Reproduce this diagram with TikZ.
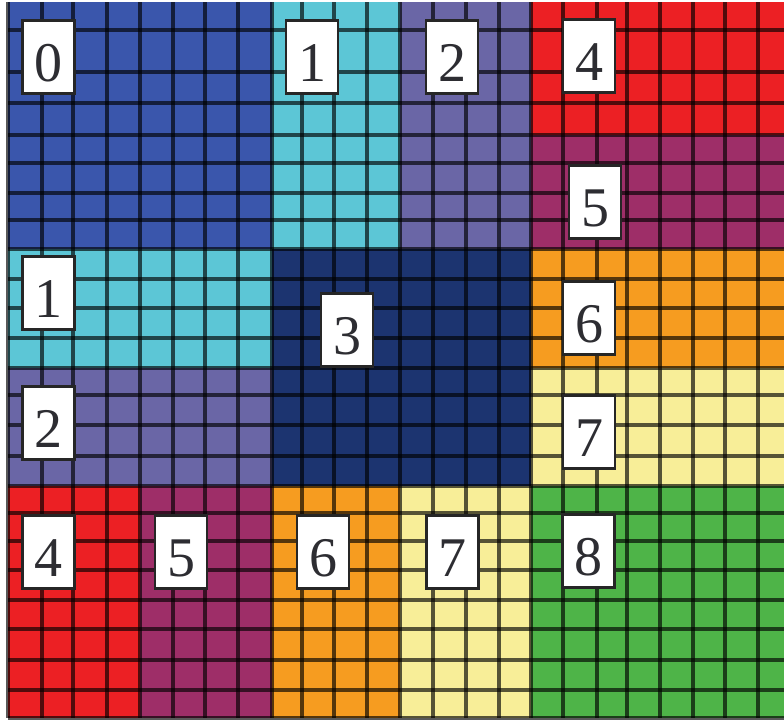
\documentclass[tikz,border=0pt]{standalone}
\usepackage{fontspec}
\setmainfont{Liberation Serif}
\definecolor{cB0}{RGB}{58,86,172}
\definecolor{cCy}{RGB}{92,198,214}
\definecolor{cPu}{RGB}{106,102,166}
\definecolor{cNv}{RGB}{28,52,112}
\definecolor{cRd}{RGB}{236,32,36}
\definecolor{cMg}{RGB}{158,46,104}
\definecolor{cOr}{RGB}{246,156,32}
\definecolor{cYe}{RGB}{248,238,152}
\definecolor{cGr}{RGB}{78,180,72}
\definecolor{lblink}{RGB}{45,45,50}
\tikzset{
  gridline/.style={draw=black,draw opacity=0.65,line width=3.6pt},
  lbl/.style={draw=black!85,line width=2.2pt,fill=white,minimum width=52pt,minimum height=73pt,
    inner sep=0pt,text depth=0pt,text height=48pt,text=lblink,
    font=\fontsize{56}{58}\selectfont}
}
\begin{document}
\begin{tikzpicture}[x=1pt,y=-1pt]
\useasboundingbox (0,0) rectangle (784,721);
\fill[white] (0,0) rectangle (784,721);
\begin{scope}
\clip (0,0) rectangle (784,721);
% blocks
\fill[cB0] (8,2) rectangle (272,249);
\fill[cCy] (272,2) rectangle (400,249);
\fill[cPu] (400,2) rectangle (531,249);
\fill[cRd] (531,2) rectangle (795,135);
\fill[cMg] (531,135) rectangle (795,249);
\fill[cCy] (8,249) rectangle (272,368);
\fill[cPu] (8,368) rectangle (272,486);
\fill[cNv] (272,249) rectangle (531,486);
\fill[cOr] (531,249) rectangle (795,368);
\fill[cYe] (531,368) rectangle (795,486);
\fill[cRd] (8,486) rectangle (140,718);
\fill[cMg] (140,486) rectangle (272,718);
\fill[cOr] (272,486) rectangle (400,718);
\fill[cYe] (400,486) rectangle (531,718);
\fill[cGr] (531,486) rectangle (795,718);
% grid lines
\foreach \x in {8,42,73,107,140,173,205,238,272,302,334,367,400,433,466,499,531,563,597,627,660,693,725,758}
  \draw[gridline] (\x,2) -- (\x,718);
\foreach \y in {30,72,103,135,163,193,220,249,279,308,338,368,395,425,456,486,513,541,570,600,629,660,690,718}
  \draw[gridline] (8,\y) -- (795,\y);
\end{scope}
% labels
\node[lbl] (t0) at (48.5,57) {0};
\node[lbl] (t1) at (312,57) {1};
\node[lbl] (t2) at (452,57) {2};
\node[lbl] (t4) at (589,56) {4};
\node[lbl] (t5) at (595,202) {5};
\node[lbl] (m1) at (48.5,293) {1};
\node[lbl] (m2) at (48.5,423) {2};
\node[lbl] (m3) at (347,330) {3};
\node[lbl] (m6) at (589,318) {6};
\node[lbl] (m7) at (589,432) {7};
\node[lbl] (b4) at (48.5,552) {4};
\node[lbl] (b5) at (181,552) {5};
\node[lbl] (b6) at (323,552) {6};
\node[lbl] (b7) at (452.5,552) {7};
\node[lbl] (b8) at (588.5,551) {8};
\end{tikzpicture}
\end{document}
